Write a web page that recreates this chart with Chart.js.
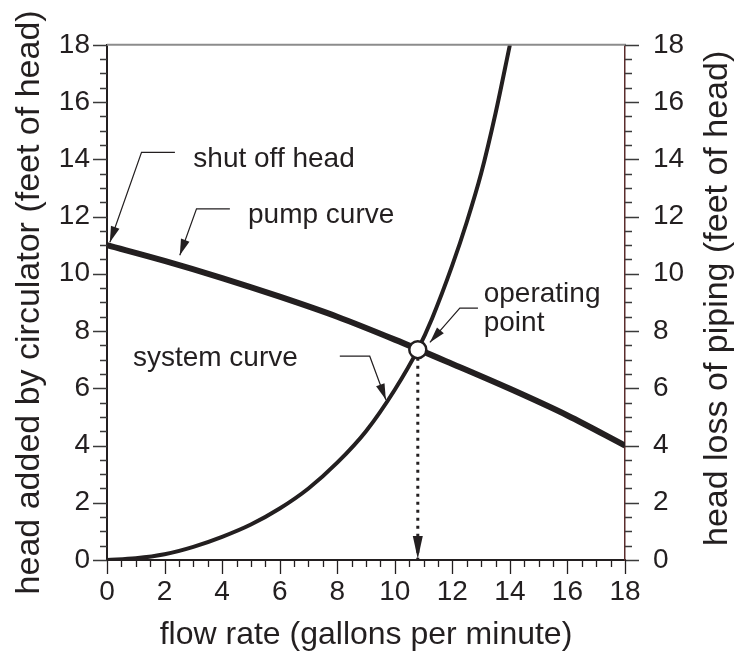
<!DOCTYPE html>
<html>
<head>
<meta charset="utf-8">
<script src="https://cdn.jsdelivr.net/npm/chart.js@4.4.0/dist/chart.umd.min.js"></script>
<style>
  body { margin: 0; background: #fff; }
  canvas { display: block; }
</style>
</head>
<body>
<canvas id="chart" width="744" height="663"></canvas>
<script>
// values (flow in gpm, head in feet)
const pumpFlow = [0, 2, 4, 6, 8, 10, 12, 14, 16, 18]
const pumpHead = [11.0, 10.45, 9.85, 9.2, 8.5, 7.7, 6.85, 5.98, 5.05, 4.0]
const systemFlow = [0, 1, 2, 3, 4, 5, 6, 7, 8, 9, 10, 10.8, 11.3, 12, 12.5, 13, 13.5, 14]
const systemHead = [0, 0.06, 0.2, 0.46, 0.81, 1.24, 1.8, 2.5, 3.4, 4.5, 5.95, 7.35, 8.45, 10.3, 11.8, 13.5, 15.6, 18]
const operatingFlow = 10.8
const operatingHead = 7.35
const axisTicks = [0, 2, 4, 6, 8, 10, 12, 14, 16, 18]
const minorTicks = Array.from({ length: 37 }, (_, i) => i / 2)

const ink = '#231f20'
const font = 'Liberation Sans, Arial, Helvetica, sans-serif'

// callouts in data units: text anchor + leader path ending at the arrow tip
const callouts = [
  { text: ['shut off head'], at: [3.0, 14.0], path: [[2.36, 14.24], [1.2, 14.24], [0.1, 11.1]] },
  { text: ['pump curve'], at: [4.9, 12.05], path: [[4.27, 12.27], [3.11, 12.27], [2.53, 10.65]] },
  { text: ['system curve'], at: [0.9, 7.05], path: [[8.09, 7.12], [9.13, 7.12], [9.69, 5.6]] },
  { text: ['operating', 'point'], at: [13.09, 9.27], path: [[12.89, 8.8], [12.26, 8.8], [11.22, 7.6]] }
]

const toPoints = (xs, ys) => xs.map((x, i) => ({ x, y: ys[i] }))

const arrowHead = (ctx, from, tip, len, half) => {
  const a = Math.atan2(tip[1] - from[1], tip[0] - from[0])
  ctx.beginPath()
  ctx.moveTo(tip[0], tip[1])
  ctx.lineTo(tip[0] - len * Math.cos(a) + half * Math.sin(a), tip[1] - len * Math.sin(a) - half * Math.cos(a))
  ctx.lineTo(tip[0] - len * Math.cos(a) - half * Math.sin(a), tip[1] - len * Math.sin(a) + half * Math.cos(a))
  ctx.closePath()
  ctx.fill()
}

const decor = {
  id: 'decor',
  afterDraw(chart) {
    const { ctx, chartArea: area } = chart
    const xs = chart.scales.x
    const ys = chart.scales.y
    const px = p => [xs.getPixelForValue(p[0]), ys.getPixelForValue(p[1])]
    ctx.save()

    // top frame line
    ctx.strokeStyle = '#8c8c8c'
    ctx.lineWidth = 2
    ctx.beginPath()
    ctx.moveTo(area.left, area.top)
    ctx.lineTo(area.right + 1, area.top)
    ctx.stroke()

    // tick marks, major every 2, minor every 0.5
    ctx.lineWidth = 1.3
    minorTicks.forEach(v => {
      const len = v % 2 === 0 ? 14 : 7
      const y = Math.round(ys.getPixelForValue(v)) + 0.5
      const x = Math.round(xs.getPixelForValue(v)) + 0.5
      ctx.strokeStyle = '#3a3a3a'
      ctx.beginPath()
      ctx.moveTo(area.left - len, y)
      ctx.lineTo(area.left, y)
      ctx.moveTo(area.right, y)
      ctx.lineTo(area.right + len, y)
      ctx.stroke()
      ctx.strokeStyle = ink
      ctx.beginPath()
      ctx.moveTo(x, area.bottom)
      ctx.lineTo(x, area.bottom + len)
      ctx.stroke()
    })

    // arrow at the bottom of the dashed drop line
    ctx.fillStyle = ink
    const tip = px([operatingFlow, 0])
    arrowHead(ctx, [tip[0], tip[1] - 30], [tip[0], tip[1] - 1], 23, 5)

    // callouts
    ctx.strokeStyle = ink
    ctx.lineWidth = 1.2
    ctx.font = '28px ' + font
    ctx.textBaseline = 'middle'
    ctx.textAlign = 'left'
    callouts.forEach(c => {
      const pts = c.path.map(px)
      ctx.beginPath()
      pts.forEach((p, i) => (i ? ctx.lineTo(p[0], p[1]) : ctx.moveTo(p[0], p[1])))
      ctx.stroke()
      arrowHead(ctx, pts[pts.length - 2], pts[pts.length - 1], 16, 4.5)
      const [tx, ty] = px(c.at)
      c.text.forEach((t, i) => ctx.fillText(t, tx, ty + i * 29))
    })

    // right axis title, read bottom to top
    ctx.font = '34px ' + font
    ctx.textAlign = 'center'
    ctx.translate(718, (area.top + area.bottom) / 2 - 4)
    ctx.rotate(-Math.PI / 2)
    ctx.fillText('head loss of piping (feet of head)', 0, 0)
    ctx.restore()
  }
}

const setTicks = scale => { scale.ticks = axisTicks.map(value => ({ value })) }

new Chart(document.getElementById('chart'), {
  type: 'line',
  data: {
    datasets: [
      {
        data: [{ x: operatingFlow, y: operatingHead }],
        showLine: false,
        pointRadius: 8.5,
        pointBackgroundColor: '#fff',
        pointBorderColor: ink,
        pointBorderWidth: 2.5,
        order: 0
      },
      {
        data: toPoints(pumpFlow, pumpHead),
        borderColor: ink,
        borderWidth: 6,
        pointRadius: 0,
        cubicInterpolationMode: 'monotone',
        order: 2
      },
      {
        data: toPoints(systemFlow, systemHead),
        borderColor: ink,
        borderWidth: 4,
        pointRadius: 0,
        cubicInterpolationMode: 'monotone',
        order: 3
      },
      {
        data: [{ x: operatingFlow, y: operatingHead }, { x: operatingFlow, y: 0 }],
        borderColor: ink,
        borderWidth: 3,
        borderDash: [3, 5],
        pointRadius: 0,
        order: 4
      }
    ]
  },
  options: {
    responsive: false,
    animation: false,
    layout: { padding: { top: 42, left: 0, right: 0, bottom: 0 } },
    plugins: { legend: { display: false }, tooltip: { enabled: false } },
    scales: {
      x: {
        type: 'linear',
        min: 0,
        max: 18,
        afterBuildTicks: setTicks,
        afterFit: s => { s.height = 103 },
        grid: { display: false, drawTicks: false },
        border: { display: true, color: ink, width: 2 },
        ticks: { padding: 15, color: ink, font: { family: font, size: 28 } },
        title: {
          display: true,
          text: 'flow rate (gallons per minute)',
          color: ink,
          font: { family: font, size: 32, lineHeight: 1 },
          padding: { bottom: 12 }
        }
      },
      y: {
        min: 0,
        max: 18,
        afterBuildTicks: setTicks,
        afterFit: s => { s.width = 107 },
        grid: { display: false, drawTicks: false },
        border: { display: true, color: ink, width: 2 },
        ticks: { padding: 17, color: ink, font: { family: font, size: 28 } },
        title: {
          display: true,
          text: 'head added by circulator (feet of head)',
          color: ink,
          font: { family: font, size: 34, lineHeight: 1 },
          padding: { top: 13 }
        }
      },
      y2: {
        position: 'right',
        min: 0,
        max: 18,
        afterBuildTicks: setTicks,
        afterFit: s => { s.width = 119 },
        grid: { display: false, drawTicks: false },
        border: { display: true, color: '#5a2d2d', width: 1.5 },
        ticks: { padding: 28, color: ink, font: { family: font, size: 28 } }
      }
    }
  },
  plugins: [decor]
})
</script>
</body>
</html>
